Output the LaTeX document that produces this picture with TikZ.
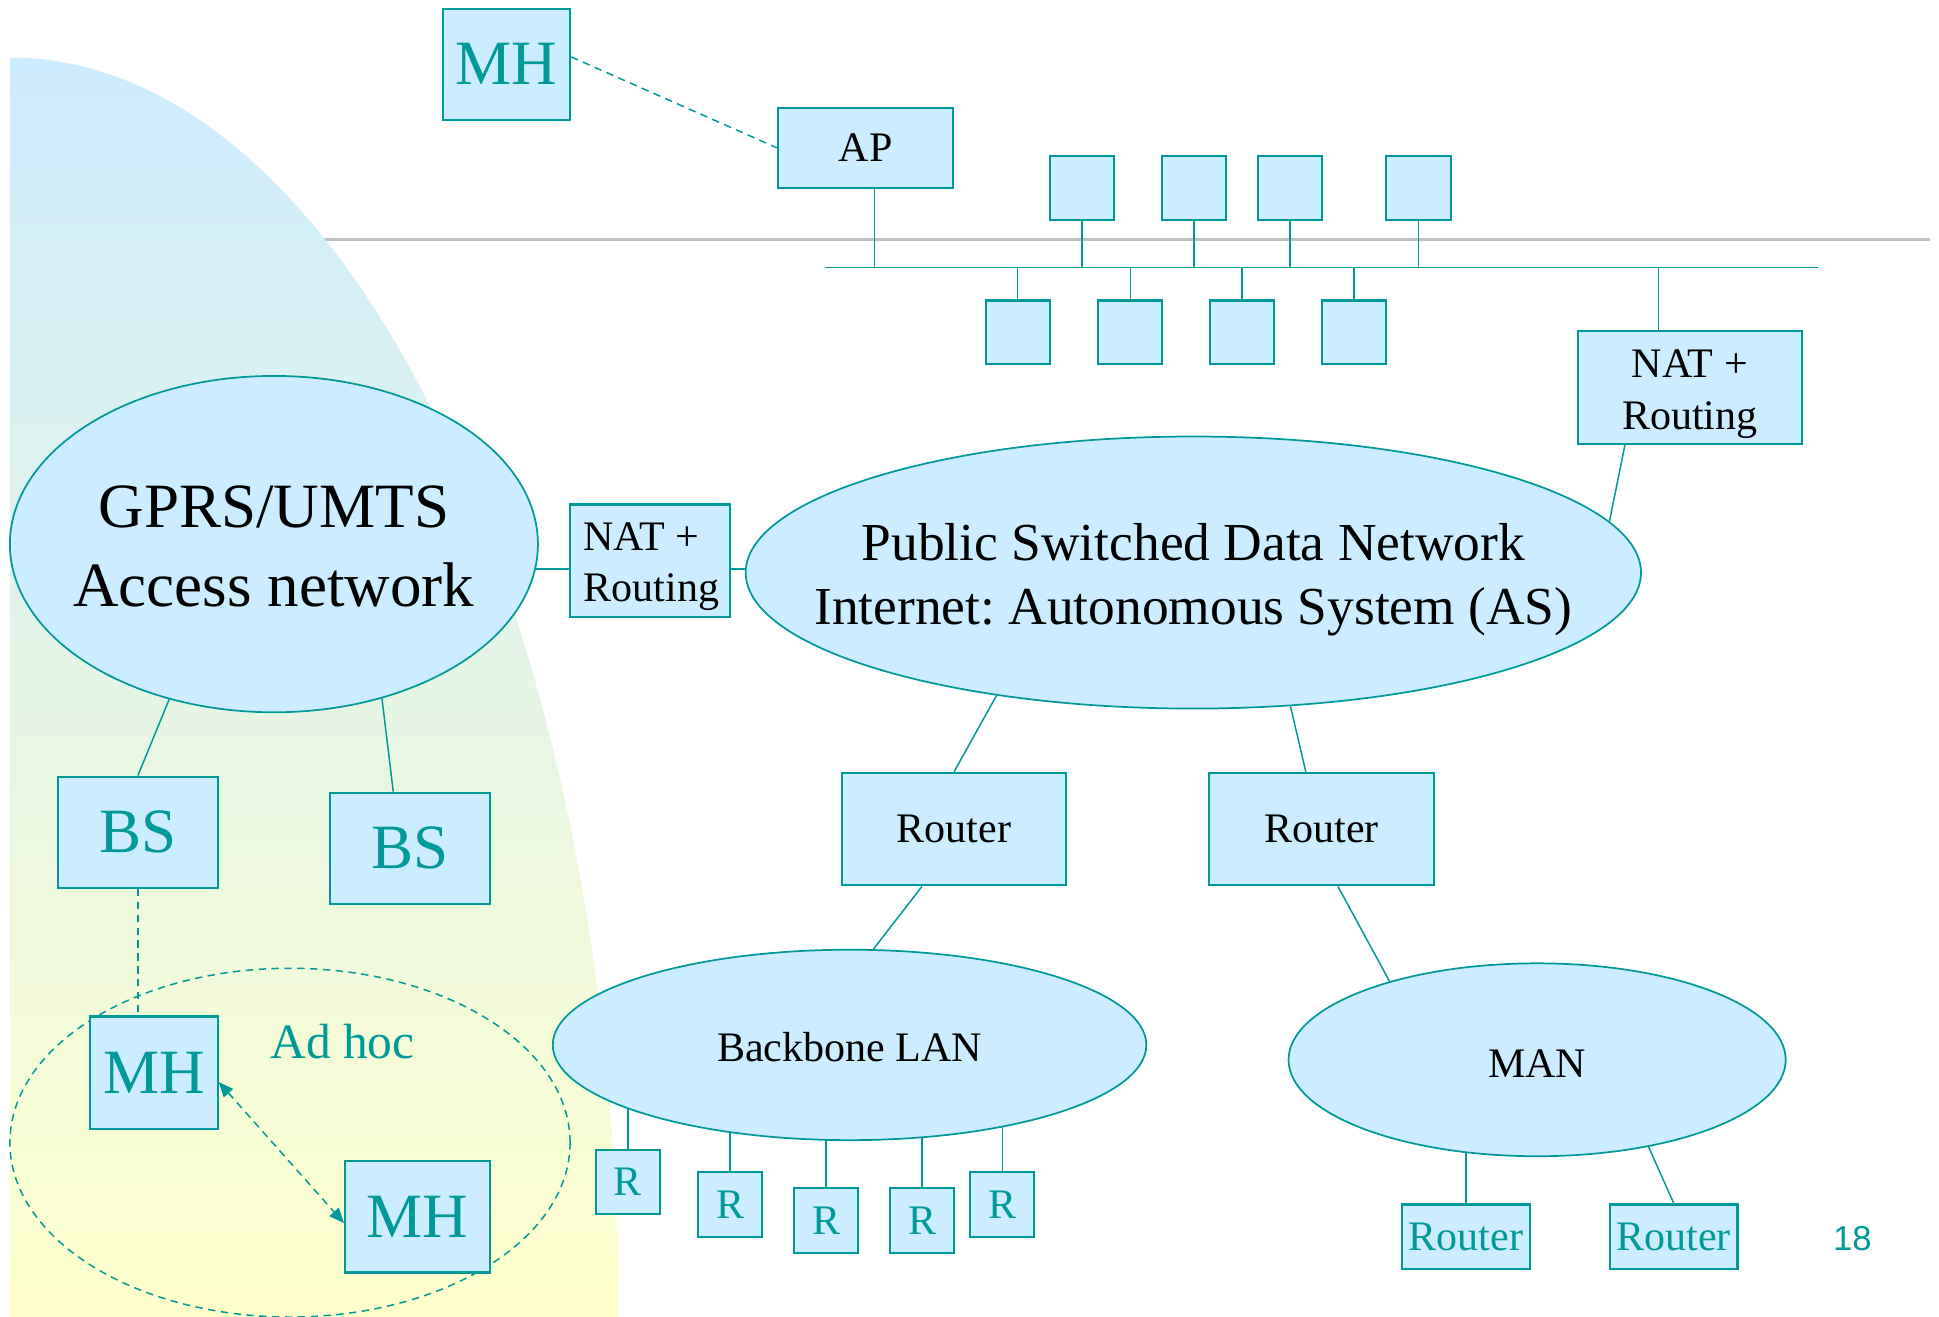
\documentclass[tikz,border=0pt]{standalone}
\usepackage{fontspec}
\setmainfont{Liberation Serif}
\newfontfamily\pagenumfont{Liberation Sans}
\usetikzlibrary{shapes.geometric,arrows.meta,calc}
\frenchspacing

\definecolor{netteal}{HTML}{009999}
\definecolor{netfill}{HTML}{CCECFF}
\definecolor{paleyellow}{HTML}{FFFFCC}
\definecolor{rulegray}{HTML}{C0C0C0}

\pgfdeclarelayer{backdrop}
\pgfdeclarelayer{wires}
\pgfsetlayers{backdrop,wires,main}

\begin{document}
\begin{tikzpicture}[x=0.5pt,y=-0.5pt,
  >={Triangle[length=6pt,width=5pt]},
  netbox/.style={rectangle, draw=netteal, fill=netfill, line width=0.85pt, inner sep=0pt},
  netcloud/.style={ellipse, draw=netteal, fill=netfill, line width=0.7pt, inner sep=0pt},
  wire/.style={draw=netteal, line width=0.6pt},
  radio/.style={wire, dash pattern=on 3pt off 2.2pt},
  bigteal/.style={text=netteal, font=\fontsize{25.5}{32}\selectfont},
  midblack/.style={text=black, font=\fontsize{17}{20.75}\selectfont},
  midteal/.style={text=netteal, font=\fontsize{17}{20.75}\selectfont},
  hostbox/.style={netbox, minimum width=26pt, minimum height=26pt},
  rbox/.style={netbox, minimum width=25.75pt, minimum height=26pt, midteal},
]
\useasboundingbox (0,0) rectangle (1568,1065);

% radio coverage area and the rule above the LAN
\begin{pgfonlayer}{backdrop}
  \draw[rulegray, line width=1.2pt] (8,193.5) -- (1561,193.5);
  \shade[top color=netfill, bottom color=paleyellow]
    (8,1065) -- (8,46.5) arc[start angle=-90, end angle=0, x radius=492, y radius=1018.5] -- cycle;
\end{pgfonlayer}

% wireless LAN
\node[netbox, minimum width=51.5pt, minimum height=45pt, bigteal] (mhwlan) at (409.5,52) {MH};
\node[netbox, minimum width=71pt, minimum height=32.5pt, midblack] (ap) at (700,119.5) {AP};
\coordinate (busL) at (667,216.5);
\coordinate (busR) at (1470,216.5);
\node[hostbox] (u1) at (875,152) {};
\node[hostbox] (u2) at (965.5,152) {};
\node[hostbox] (u3) at (1043,152) {};
\node[hostbox] (u4) at (1147,152) {};
\node[hostbox, minimum height=25.5pt] (l1) at (823,268.5) {};
\node[hostbox, minimum height=25.5pt] (l2) at (914,268.5) {};
\node[hostbox, minimum height=25.5pt] (l3) at (1004.25,268.5) {};
\node[hostbox, minimum height=25.5pt] (l4) at (1095,268.5) {};
\node[netbox, minimum width=90.5pt, minimum height=45.5pt] (nat2) at (1366.5,313.5) {};
\node[midblack, align=center, inner sep=0pt] (nat2txt) at (1366.5,318.8) {NAT +\\Routing};

% core networks
\node[netcloud, minimum width=213.5pt, minimum height=136pt] (gprs) at (221.5,440) {};
\node[text=black, font=\fontsize{25.5}{32}\selectfont, align=center, inner sep=0pt] (gprstxt) at (221.5,441.7) {GPRS/UMTS\\Access network};
\node[netbox, minimum width=64.5pt, minimum height=45.5pt] (nat1) at (525.5,453.5) {};
\node[midblack, align=left, inner sep=0pt, anchor=west] (nat1txt) at (471.5,458.5) {NAT +\\Routing};
\node[netcloud, minimum width=362pt, minimum height=110pt] (psdn) at (965,463) {};
\node[text=black, font=\fontsize{21.6}{25.8}\selectfont, align=center, inner sep=0pt] (psdntxt) at (965,468.7) {Public Switched Data Network\\Internet: Autonomous System (AS)};

% base stations and ad hoc group
\node[netbox, minimum width=64.5pt, minimum height=45pt, bigteal] (bs1) at (111.5,673) {BS};
\node[netbox, minimum width=64.5pt, minimum height=45pt, bigteal] (bs2) at (331.5,686) {BS};
\node[ellipse, draw=netteal, line width=0.6pt, dash pattern=on 3pt off 2.2pt, inner sep=0pt,
      minimum width=226.5pt, minimum height=141pt] (adhoc) at (234.5,924) {};
\node[text=netteal, font=\fontsize{20}{24}\selectfont, inner sep=0pt] (adhoctxt) at (277,842.5) {Ad hoc};
\node[netbox, minimum width=51.5pt, minimum height=45.5pt, bigteal] (mh1) at (124.5,867.5) {MH};
\node[netbox, minimum width=58.5pt, minimum height=45pt, bigteal] (mh2) at (337.5,984) {MH};

% routers and access networks
\node[netbox, minimum width=90.5pt, minimum height=45.5pt, midblack] (router1) at (771.5,670.5) {Router};
\node[netbox, minimum width=90.75pt, minimum height=45.5pt, midblack] (router2) at (1068.75,670.5) {Router};
\node[netcloud, minimum width=240pt, minimum height=77pt] (lan) at (687,845) {};
\node[midblack, inner sep=0pt] (lantxt) at (687,846.5) {Backbone LAN};
\node[netcloud, minimum width=201pt, minimum height=78pt] (man) at (1243,857) {};
\node[midblack, inner sep=0pt] (mantxt) at (1243,860) {MAN};
\node[rbox] (r1) at (507.75,956) {R};
\node[rbox] (r2) at (590.5,974) {R};
\node[rbox] (r3) at (668,987) {R};
\node[rbox] (r4) at (745.75,987) {R};
\node[rbox] (r5) at (810.5,974) {R};
\node[netbox, minimum width=51.5pt, minimum height=26pt, midteal] (rt1) at (1185.5,1000) {Router};
\node[netbox, minimum width=51.5pt, minimum height=26pt, midteal] (rt2) at (1353.5,1000) {Router};
\node[text=netteal, font=\pagenumfont\fontsize{14}{16}\selectfont, inner sep=0pt] (pagenum) at (1498,1001.5) {18};

% links
\begin{pgfonlayer}{wires}
  \draw[radio] ([yshift=3pt]mhwlan.east) -- (ap.west);
  \draw[wire] (busL) -- (busR);
  \draw[wire] ([xshift=3.5pt]ap.south) -- ([xshift=3.5pt]ap.south |- busL);
  \foreach \h in {u1,u2,u3,u4} \draw[wire] (\h.south) -- (\h.south |- busL);
  \foreach \h in {l1,l2,l3,l4} \draw[wire] (\h.north) -- (\h.north |- busL);
  \draw[wire] ([xshift=-12.75pt]nat2.north) -- ([xshift=-12.75pt]nat2.north |- busL);
  \draw[wire] ([xshift=-26.25pt]nat2.south) -- (psdn.7);
  \draw[wire] ([yshift=-3.25pt]nat1.west) -- ([yshift=-3.25pt]nat1.west -| gprs.center);
  \draw[wire] ([yshift=-3.25pt]nat1.east) -- ([yshift=-3.25pt]nat1.east -| psdn.center);
  \draw[wire] (bs1.north) -- (gprs.-124.3);
  \draw[wire] ([xshift=-6.75pt]bs2.north) -- (gprs.-55.3);
  \draw[radio] (bs1.south) -- (bs1.south |- mh1.north);
  \draw[radio, <->] ([yshift=-3.75pt]mh1.east) -- ([yshift=-2.5pt]mh2.west);
  \draw[wire] (router1.north) -- (psdn.-148);
  \draw[wire] ([xshift=-6.4pt]router2.north) -- (psdn.-54.4);
  \draw[wire] ([xshift=-13pt]router1.south) -- (lan.76);
  \draw[wire] ([xshift=6.6pt]router2.south) -- (man.152.3);
  \foreach \h in {r1,r2,r3,r4,r5} \draw[wire] (\h.north) -- (\h.north |- lan.center);
  \draw[wire] (rt1.north) -- (rt1.north |- man.center);
  \draw[wire] (rt2.north) -- (man.-38.8);
\end{pgfonlayer}
\end{tikzpicture}
\end{document}
